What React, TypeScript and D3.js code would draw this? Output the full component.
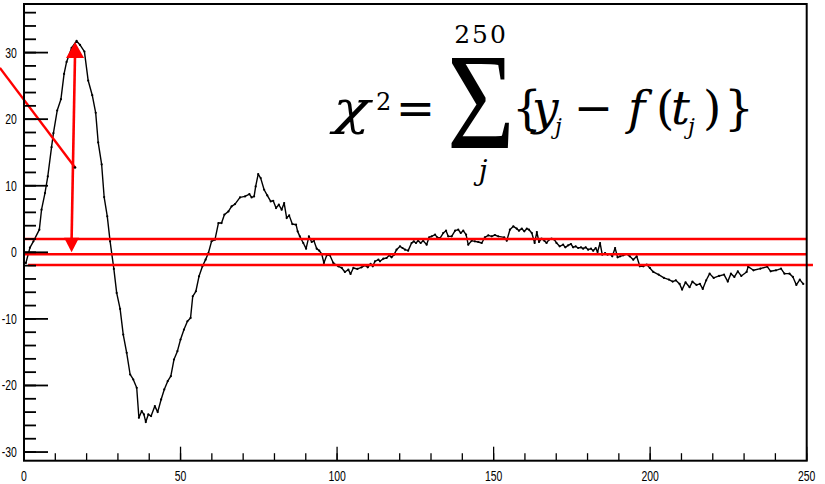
import React from "react";
import * as d3 from "d3";

// ---- data ----
const tValues = [0, 0.6, 1.9, 3, 4.9, 5.6, 6.7, 7.6, 8.8, 9.4, 10.6, 11.8, 12.8, 13.6, 15.2, 16.8, 17.9, 19.3, 20.5, 21.8, 22.9, 23.7, 24.8, 25.6, 26.6, 27.5, 28.7, 29.6, 30.7, 31.7, 32.8, 33.9, 34.9, 36, 36.7, 37.6, 38.3, 38.9, 39.7, 40.6, 41.8, 42.7, 43.8, 44.8, 45.9, 46.9, 47.9, 49, 50, 51.1, 52.2, 53.2, 53.9, 54.9, 55.9, 57, 58, 58.9, 59.9, 61, 62.1, 63.1, 64, 65.3, 66.3, 67.4, 69, 70.6, 72, 72.7, 73.5, 74, 74.8, 75.6, 76.7, 77.7, 78.8, 79.6, 80.5, 81.4, 82.3, 83.1, 83.9, 84.7, 85.7, 86.9, 87.4, 88.1, 89.2, 90.1, 91, 91.9, 92.6, 93.5, 94.3, 95.1, 95.8, 96.7, 97.7, 98.8, 100.4, 101.5, 102.5, 103.6, 104.3, 105.2, 106.5, 107.8, 108.9, 109.8, 110.7, 111.4, 112.1, 113.2, 113.7, 114.8, 115.8, 116.7, 117.4, 118.2, 119, 120.1, 120.9, 121.7, 122.7, 123.8, 124.5, 125.2, 125.9, 126.7, 127.5, 128.6, 129.4, 130.2, 131.3, 132, 132.9, 133.9, 134.8, 135.5, 136.6, 137.7, 138.7, 139.5, 140.3, 141.2, 141.9, 143, 144, 145.1, 146.2, 147.2, 148.3, 149.4, 150.4, 151.5, 153.4, 154.2, 155.2, 156.3, 157.4, 158.1, 159, 159.8, 160.6, 161.3, 162.2, 163.1, 163.8, 164.5, 165.3, 166.2, 166.9, 167.7, 168.5, 169.4, 170.1, 171.1, 172.2, 172.9, 173.8, 174.7, 175.4, 176.2, 177, 177.9, 178.6, 179.4, 180.2, 181.1, 181.8, 182.6, 183.2, 184, 184.7, 185.6, 186.4, 187.2, 187.9, 188.8, 189.6, 190.4, 191.4, 192.5, 193.5, 194.6, 195.7, 196.7, 197.8, 198.9, 199.9, 201, 202.7, 204.4, 206, 207.2, 208.2, 209.4, 210.2, 211.3, 212.6, 213.5, 214.8, 215.9, 216.8, 217.9, 219, 220.3, 222, 223.6, 224.8, 225.8, 226.9, 228, 229.1, 230.8, 231.3, 233, 235.2, 237.4, 238.5, 240.2, 241.8, 242.9, 244.5, 245.6, 246.7, 247.8, 248.9];
const yValues = [-1.5, -1.6, 0.7, 1.65, 3.4, 6.4, 8.9, 11.4, 15.8, 17.9, 21.3, 23, 26.8, 28.6, 30.7, 31.75, 31.15, 30.15, 25.8, 23.6, 20.95, 16.5, 13.2, 8.3, 5.4, 1.65, -2.5, -6.1, -8.5, -12.35, -15.1, -18.35, -19.1, -20.35, -24.85, -23.85, -24.35, -25.5, -24.35, -24.6, -23.1, -24, -22.1, -20.6, -19.35, -18.6, -16.1, -14.85, -13.1, -11.6, -10.35, -9.85, -6.6, -5.85, -3.6, -2.1, -1.1, -0.1, 1.65, 1.9, 4.4, 4.4, 5.65, 6.15, 6.9, 7.25, 8.25, 8.4, 8.75, 8.25, 8.4, 9.9, 11.75, 11.15, 9.4, 8.55, 7.65, 7.75, 6.65, 7.15, 6.4, 7.4, 5.15, 5.55, 4.25, 4.15, 3.15, 2.4, 1.4, 0.55, 2.4, 1.55, 1.75, 0.55, 0.25, -0.25, -1.6, -0.45, -0.45, -1.6, -2.1, -2.35, -2.95, -2.6, -3.25, -2.35, -2.5, -2.25, -1.95, -2.25, -1.75, -2.1, -1.35, -1.1, -1.35, -0.95, -0.85, -0.45, -0.75, -0.35, 0.4, 0.9, 0.65, 0.4, 0.25, 1.4, 1.65, 1.4, 1.75, 1.4, 1.75, 1.15, 2.25, 2.4, 2.65, 2.25, 2.15, 2.9, 3.25, 2.4, 2.4, 3.25, 3.4, 2.9, 3.25, 2.65, 1.15, 1.75, 1.65, 1.55, 1.4, 2.25, 2.55, 2.4, 2.6, 2.4, 2.25, 1.75, 3.4, 3.9, 3.55, 3.25, 3.55, 3.15, 3.55, 3.4, 2.9, 1.4, 3.05, 1.55, 2.05, 1.75, 1.4, 1.9, 2.05, 1.9, 1.4, 0.9, 1.15, 0.75, 1.05, 1.25, 0.75, 0.9, 0.65, 0.75, 0.55, 0.75, 0.4, 0.55, 0.25, 0.65, 0.05, 1.4, -0.35, -0.1, -0.35, -0.25, -0.6, 0.65, -0.75, -0.6, -0.45, -0.25, -0.6, -1.1, -0.6, -2.1, -2.1, -1.85, -2.35, -2.95, -3.35, -3.85, -4.1, -4.4, -4.2, -4.75, -5.6, -4.5, -5.25, -4.4, -4.9, -4.75, -5.5, -4.2, -3.2, -3.85, -3.55, -3.35, -4.4, -3.2, -3.7, -2.85, -3.55, -2.95, -2.15, -2.7, -2.45, -2.15, -2.85, -2.7, -2.45, -3.2, -3.2, -3.7, -4.9, -4.1, -4.75];

const xMajorTicks = [0, 50, 100, 150, 200, 250];
const xMinorTicks = d3.range(0, 251, 10);
const yMajorTicks = [-30, -20, -10, 0, 10, 20, 30];
const yMinorTicks = d3.range(-30, 37, 2);

const refLevels = [2, -0.3, -1.9];
const refStart = [0, 0, 1.3];
const refEnd = [250, 250, 252];

const arrowT = [15.2, 16.3];
const arrowY = [0, 31.6];
const pointerT = [-7.7, 16.3];
const pointerY = [27.7, 12.75];

const W = 825;
const H = 484;

export default function App() {
  const x = d3.scaleLinear().domain([0, 250]).range([24, 806.7]);
  const y = d3.scaleLinear().domain([-31.3, 37.3]).range([460.7, 4]);
  const pts = tValues.map((t, i) => [t, yValues[i]] as [number, number]);
  const line = d3
    .line<[number, number]>()
    .x((d) => x(d[0]))
    .y((d) => y(d[1]));

  const left = x(0);
  const right = x(250);
  const top = y(37.3);
  const bottom = y(-31.3);
  const tickFont = "'Liberation Sans', Arial, sans-serif";
  const mathFont = "'DejaVu Serif', 'Liberation Serif', serif";
  const sx = 0.72;

  const ax0 = x(arrowT[0]);
  const ay0 = y(arrowY[0]);
  const ax1 = x(arrowT[1]);
  const ay1 = y(arrowY[1]);

  const base = 124;
  const fs = 47;

  return (
    <svg
      width={W}
      height={H}
      style={{ position: "absolute", left: 0, top: 0, background: "#fff" }}
    >
      <rect x={0} y={0} width={W} height={H} fill="#fff" />
      {/* curve */}
      <path d={line(pts) || ""} fill="none" stroke="#000" strokeWidth={1.4} strokeLinejoin="round" />
      {pts.map((p, i) => (
        <circle key={i} cx={x(p[0])} cy={y(p[1])} r={1.1} fill="#000" />
      ))}
      {/* red reference lines */}
      {refLevels.map((v, i) => (
        <line
          key={i}
          x1={x(refStart[i])}
          x2={x(refEnd[i])}
          y1={y(v)}
          y2={y(v)}
          stroke="#ff0000"
          strokeWidth={2.4}
        />
      ))}
      {/* arrow */}
      <line x1={ax0} y1={ay0 - 12} x2={ax1} y2={ay1 + 12} stroke="#ff0000" strokeWidth={2.6} />
      <polygon
        points={`${ax1},${ay1} ${ax1 - 9},${ay1 + 16} ${ax1 + 9},${ay1 + 16}`}
        fill="#ff0000"
      />
      <polygon
        points={`${ax0},${ay0} ${ax0 - 7.5},${ay0 - 14.5} ${ax0 + 7.5},${ay0 - 14.5}`}
        fill="#ff0000"
      />
      <line
        x1={x(pointerT[0])}
        y1={y(pointerY[0])}
        x2={x(pointerT[1])}
        y2={y(pointerY[1])}
        stroke="#ff0000"
        strokeWidth={2.4}
      />
      <circle cx={x(pointerT[1])} cy={y(pointerY[1])} r={1.3} fill="#000" />

      {/* frame */}
      <rect x={left} y={top} width={right - left} height={bottom - top} fill="none" stroke="#000" strokeWidth={2} />
      {/* y ticks */}
      {yMinorTicks.map((v) => (
        <line key={"ym" + v} x1={left} x2={left + 12} y1={y(v)} y2={y(v)} stroke="#000" strokeWidth={1.8} />
      ))}
      {yMajorTicks.map((v) => (
        <line key={"yM" + v} x1={left} x2={left + 24} y1={y(v)} y2={y(v)} stroke="#000" strokeWidth={1.8} />
      ))}
      {yMajorTicks.map((v) => (
        <text
          key={"yl" + v}
          transform={`translate(16.8,${y(v) + 5}) scale(${sx},1)`}
          textAnchor="end"
          fontFamily={tickFont}
          fontSize={14.5}
          fill="#000"
        >
          {v}
        </text>
      ))}
      {/* x ticks */}
      {xMinorTicks.map((v) => (
        <line key={"xm" + v} x1={x(v)} x2={x(v)} y1={bottom} y2={bottom - 7.5} stroke="#000" strokeWidth={1.3} />
      ))}
      {xMajorTicks.map((v) => (
        <line key={"xM" + v} x1={x(v)} x2={x(v)} y1={bottom} y2={bottom - 14} stroke="#000" strokeWidth={1.3} />
      ))}
      {xMajorTicks.map((v) => (
        <text
          key={"xl" + v}
          transform={`translate(${x(v)},480.5) scale(${sx},1)`}
          textAnchor="middle"
          fontFamily={tickFont}
          fontSize={14.5}
          fill="#000"
        >
          {v}
        </text>
      ))}

      {/* formula */}
      <g fontFamily={mathFont} fill="#000">
        <text transform={`translate(333,${base}) scale(1.3,1)`} fontSize={fs} fontStyle="italic">χ</text>
        <text x={376} y={110} fontSize={24}>2</text>
        <text x={415.5} y={base} fontSize={fs} textAnchor="middle">=</text>
        <text
          transform={`translate(481,148) scale(0.85,1)`}
          fontSize={137}
          fontFamily="'Liberation Serif', serif"
          textAnchor="middle"
        >
          Σ
        </text>
        <text x={481} y={43} fontSize={25} textAnchor="middle" letterSpacing={2}>250</text>
        <text x={483} y={180} fontSize={28} fontStyle="italic" textAnchor="middle">j</text>
        <text x={512} y={base} fontSize={fs}>{"{"}</text>
        <text x={532} y={base} fontSize={fs} fontStyle="italic">y</text>
        <text x={555} y={134} fontSize={22} fontStyle="italic">j</text>
        <text x={593.5} y={base} fontSize={fs} textAnchor="middle">−</text>
        <text x={628} y={base} fontSize={fs} fontStyle="italic">f</text>
        <text x={656} y={base} fontSize={fs}>(</text>
        <text x={671} y={base} fontSize={fs} fontStyle="italic">t</text>
        <text x={688} y={134} fontSize={22} fontStyle="italic">j</text>
        <text x={703} y={base} fontSize={fs}>)</text>
        <text x={724} y={base} fontSize={fs}>{"}"}</text>
      </g>
    </svg>
  );
}
